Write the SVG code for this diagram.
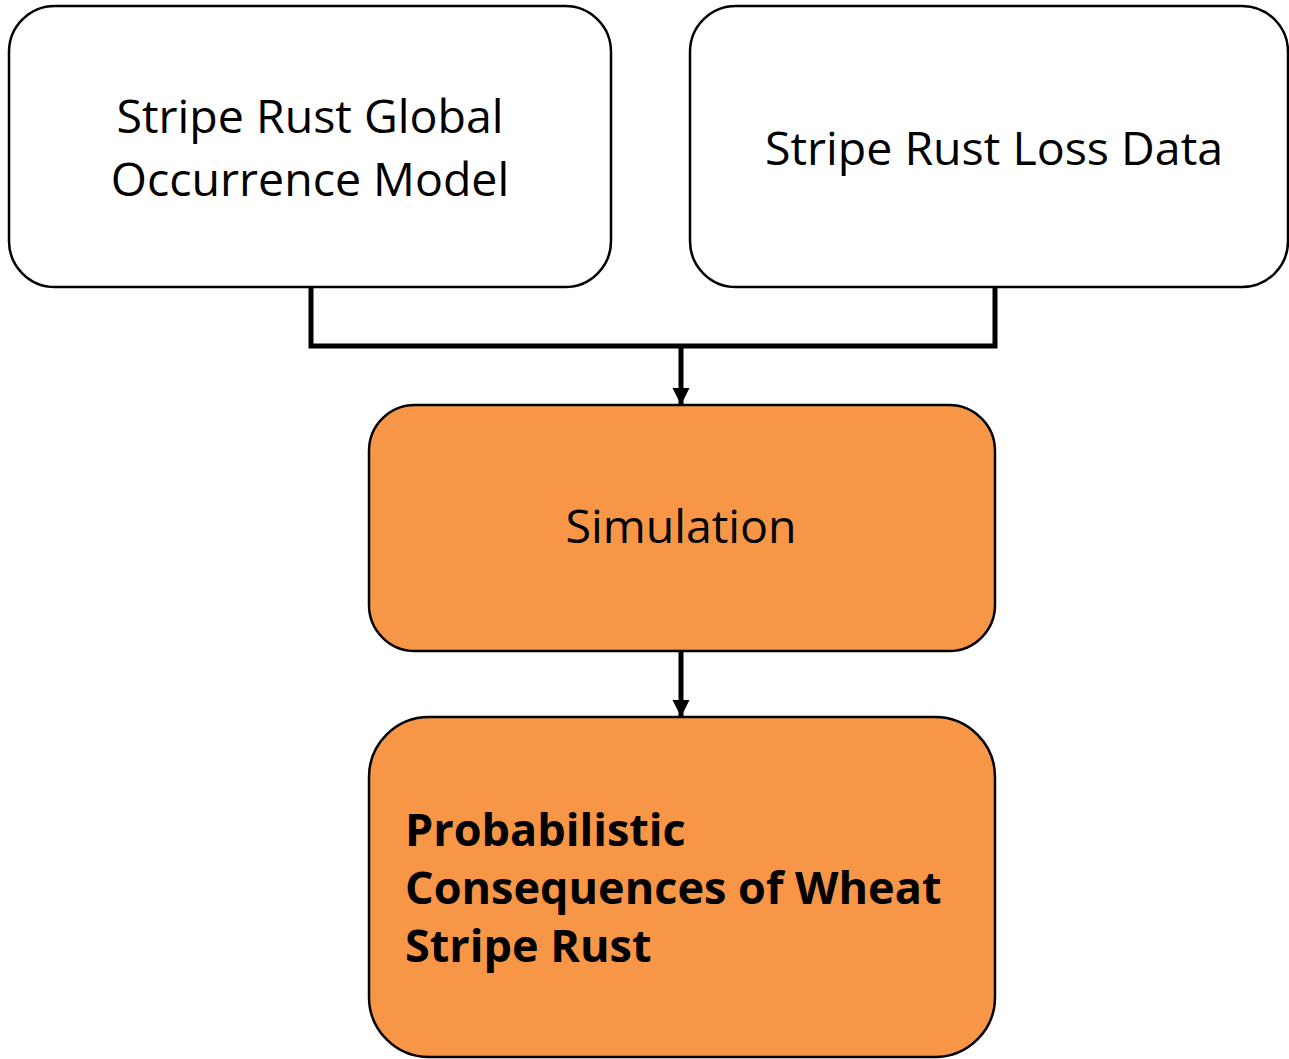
<svg xmlns="http://www.w3.org/2000/svg" width="1289" height="1059" viewBox="0 0 1289 1059">
<defs>
<marker id="arr" viewBox="0 0 10 10" refX="10" refY="5" markerWidth="3.5" markerHeight="3.5" markerUnits="strokeWidth" orient="auto">
<path d="M0,0 L10,5 L0,10 z" fill="#000"/>
</marker>
<style>
.box{stroke:#000;stroke-width:2.5}
.w{fill:#fff}
.o{fill:#F79646}
.t{font-family:"Open Sans","Noto Sans",sans-serif;font-size:46.5px;fill:#000}
.b{font-weight:bold;font-size:45px}
.c{fill:none;stroke:#000;stroke-width:5}
</style>
</defs>
<rect width="1289" height="1059" fill="#fff"/>
<g id="connectors">
<polyline class="c" points="311,287 311,346 995,346 995,287"/>
<line class="c" x1="681" y1="346" x2="681" y2="405" marker-end="url(#arr)"/>
<line class="c" x1="681" y1="651" x2="681" y2="717" marker-end="url(#arr)"/>
</g>
<g id="node-occurrence">
<rect class="box w" x="9" y="6" width="602" height="281" rx="46"/>
<text class="t" x="310" y="133" text-anchor="middle">Stripe Rust Global</text>
<text class="t" x="310" y="196" text-anchor="middle">Occurrence Model</text>
</g>
<g id="node-loss">
<rect class="box w" x="690" y="6" width="598" height="281" rx="46"/>
<text class="t" x="994" y="165" text-anchor="middle">Stripe Rust Loss Data</text>
</g>
<g id="node-simulation">
<rect class="box o" x="369" y="405" width="626" height="246" rx="46"/>
<text class="t" x="681" y="543" text-anchor="middle">Simulation</text>
</g>
<g id="node-consequences">
<rect class="box o" x="369" y="717" width="626" height="340" rx="60"/>
<text class="t b" x="405" y="846">Probabilistic</text>
<text class="t b" x="405" y="904">Consequences of Wheat</text>
<text class="t b" x="405" y="962">Stripe Rust</text>
</g>
</svg>
